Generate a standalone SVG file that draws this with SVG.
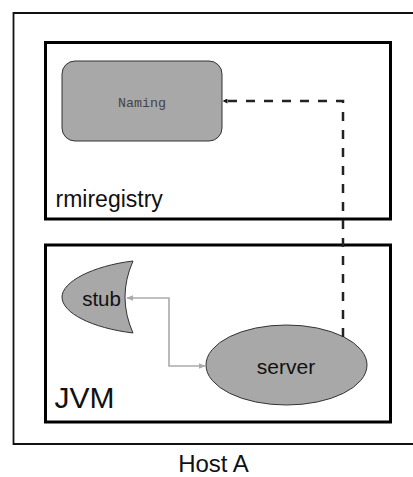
<svg xmlns="http://www.w3.org/2000/svg" width="413" height="477" viewBox="0 0 413 477">
<defs>
<style>
.box{fill:none;stroke:#000;stroke-width:3}
.shape{fill:#a8a8a8;stroke:#333;stroke-width:1}
.lbl{font-family:"Liberation Sans",Arial,sans-serif;fill:#111}
</style>
<marker id="blk" viewBox="0 0 10 10" refX="9" refY="5" markerWidth="5" markerHeight="5" orient="auto-start-reverse" markerUnits="userSpaceOnUse">
<path d="M0,0 L10,5 L0,10 z" fill="#111"/>
</marker>
<marker id="gry" viewBox="0 0 10 10" refX="9" refY="5" markerWidth="7" markerHeight="7" orient="auto-start-reverse" markerUnits="userSpaceOnUse">
<path d="M0,1 L10,5 L0,9 z" fill="#aaa"/>
</marker>
</defs>
<rect width="413" height="477" fill="#fff"/>
<g id="hostA">
<path d="M420,13 H13.5 V444 H420" fill="none" stroke="#111" stroke-width="1.8"/>
<text class="lbl" x="213.5" y="472" font-size="24" text-anchor="middle">Host A</text>
</g>
<g id="rmiregistry">
<rect class="box" x="45.5" y="42.5" width="345" height="176.5"/>
<text class="lbl" x="55.5" y="207" font-size="23">rmiregistry</text>
</g>
<g id="naming">
<rect class="shape" x="62" y="61" width="160" height="80" rx="13" ry="13"/>
<text x="142" y="107" font-family="'Liberation Mono','Courier New',monospace" font-size="13.3" fill="#444" text-anchor="middle">Naming</text>
</g>
<g id="jvm">
<rect class="box" x="45.5" y="245" width="345" height="177"/>
<text class="lbl" x="54.5" y="408" font-size="30">JVM</text>
</g>
<g id="stub">
<path class="shape" d="M133,261 C92,266 62,282 62,297 C62,313 92,328 133,333 Q117,297 133,261 Z"/>
<text class="lbl" x="101.5" y="306" font-size="20.5" text-anchor="middle">stub</text>
</g>
<g id="server">
<ellipse class="shape" cx="286.5" cy="365" rx="80.5" ry="40"/>
<text class="lbl" x="286" y="374" font-size="21" text-anchor="middle">server</text>
</g>
<g id="connectors">
<path d="M343,337 V101 H223" fill="none" stroke="#222" stroke-width="2.5" stroke-dasharray="9,9" marker-end="url(#blk)"/>
<path d="M127,298 H169 V366 H205" fill="none" stroke="#aaa" stroke-width="1.6" marker-start="url(#gry)" marker-end="url(#gry)"/>
</g>
</svg>
